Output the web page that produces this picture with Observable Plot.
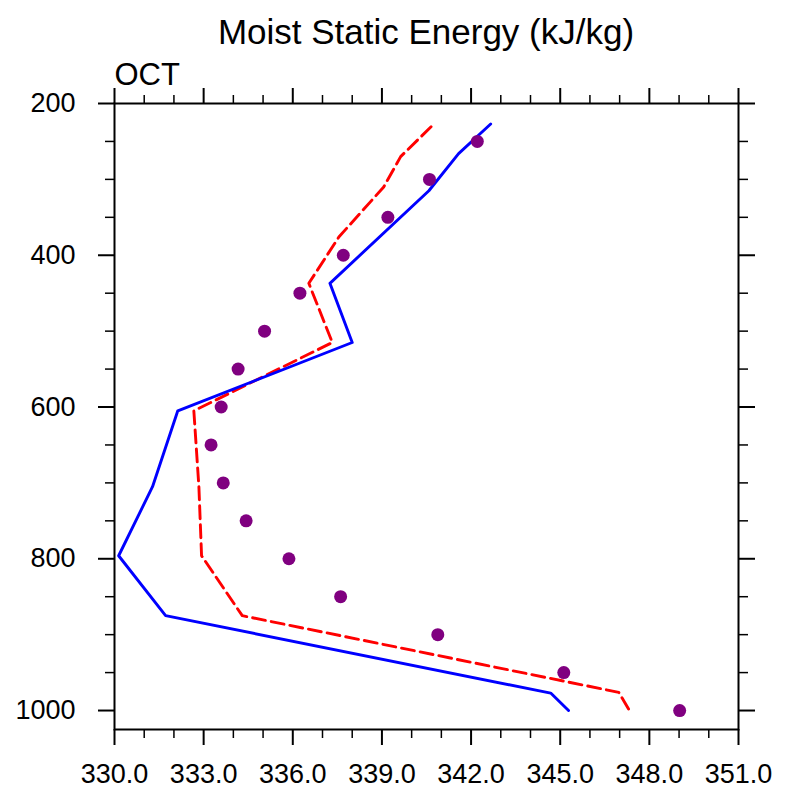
<!DOCTYPE html>
<html><head><meta charset="utf-8">
<script src="https://cdn.jsdelivr.net/npm/d3@7"></script>
<script src="https://cdn.jsdelivr.net/npm/@observablehq/plot@0.6"></script>
<style>
html,body{margin:0;padding:0;background:#fff;overflow:hidden;}
#title{box-sizing:border-box;width:789px;height:55px;padding-left:63px;padding-top:14px;font:35px/35px "Liberation Sans",Arial,sans-serif;text-align:center;color:#000;white-space:nowrap;}
</style></head><body>
<div id="title">Moist Static Energy (kJ/kg)</div>
<div id="chart"></div>
<script>
// Observations (dots)
const obsLevels = [1000, 950, 900, 850, 800, 750, 700, 650, 600, 550, 500, 450, 400, 350, 300, 250];
const obsMSE    = [349.02, 345.12, 340.88, 337.61, 335.87, 334.43, 333.66, 333.25, 333.59, 334.16, 335.05, 336.24, 337.70, 339.20, 340.60, 342.21];
// Solid blue line
const blueLevels = [1000, 977, 875, 796, 705, 605, 515, 437, 315, 266, 227];
const blueMSE    = [345.28, 344.68, 331.72, 330.14, 331.28, 332.13, 338.00, 337.25, 340.58, 341.58, 342.66];
// Dashed red line
const redLevels = [998, 976, 875, 796, 705, 605, 515, 437, 376, 310, 270, 227];
const redMSE    = [347.30, 346.97, 334.30, 332.93, 332.84, 332.67, 337.33, 336.54, 337.55, 339.06, 339.63, 340.75];
// Axes
const xMajorTicks = [330, 333, 336, 339, 342, 345, 348, 351];
const xMinorTicks = [331, 332, 334, 335, 337, 338, 340, 341, 343, 344, 346, 347, 349, 350];
const yMajorTicks = [200, 400, 600, 800, 1000];
const yMinorTicks = [250, 300, 350, 450, 500, 550, 650, 700, 750, 850, 900, 950];
const panelLabel = "OCT";

const obs = obsLevels.map((p, i) => ({p, v: obsMSE[i]}));
const blue = blueLevels.map((p, i) => ({p, v: blueMSE[i]}));
const red = redLevels.map((p, i) => ({p, v: redMSE[i]}));

const font = "Liberation Sans, Arial, sans-serif";
const chart = Plot.plot({
  width: 789,
  height: 734,
  marginTop: 48,
  marginBottom: 60,
  marginLeft: 114,
  marginRight: 51,
  style: {fontFamily: font, fontSize: "27px", color: "#000", background: "#fff", overflow: "visible"},
  x: {domain: [330, 351]},
  y: {domain: [200, 1025], reverse: true},
  marks: [
    Plot.line(red, {x: "v", y: "p", stroke: "#ff0000", strokeWidth: 2.9, strokeDasharray: "13,6"}),
    Plot.line(blue, {x: "v", y: "p", stroke: "#0000ff", strokeWidth: 2.9}),
    Plot.dot(obs, {x: "v", y: "p", r: 6.5, fill: "#800080", stroke: "none"}),
    Plot.frame({stroke: "#000", strokeWidth: 2}),
    Plot.axisX(xMajorTicks, {anchor: "bottom", tickSize: 16, tickPadding: 18, strokeWidth: 2, tickFormat: d => d.toFixed(1), fontSize: 27, label: null}),
    Plot.axisX(xMinorTicks, {anchor: "bottom", tickSize: 9, strokeWidth: 1.5, fill: "none", label: null}),
    Plot.axisX(xMajorTicks, {anchor: "top", tickSize: 16, strokeWidth: 2, fill: "none", label: null}),
    Plot.axisX(xMinorTicks, {anchor: "top", tickSize: 9, strokeWidth: 1.5, fill: "none", label: null}),
    Plot.axisY(yMajorTicks, {anchor: "left", tickSize: 16, tickPadding: 23, strokeWidth: 2, tickFormat: d => String(d), fontSize: 27, label: null}),
    Plot.axisY(yMinorTicks, {anchor: "left", tickSize: 9, strokeWidth: 1.5, fill: "none", label: null}),
    Plot.axisY(yMajorTicks, {anchor: "right", tickSize: 16, strokeWidth: 2, fill: "none", label: null}),
    Plot.axisY(yMinorTicks, {anchor: "right", tickSize: 9, strokeWidth: 1.5, fill: "none", label: null}),
    Plot.text([panelLabel], {frameAnchor: "top-left", text: d => d, textAnchor: "start", lineAnchor: "bottom", dy: -19, fontSize: 31, fill: "#000"})
  ]
});
document.getElementById("chart").appendChild(chart);
</script>
</body></html>
